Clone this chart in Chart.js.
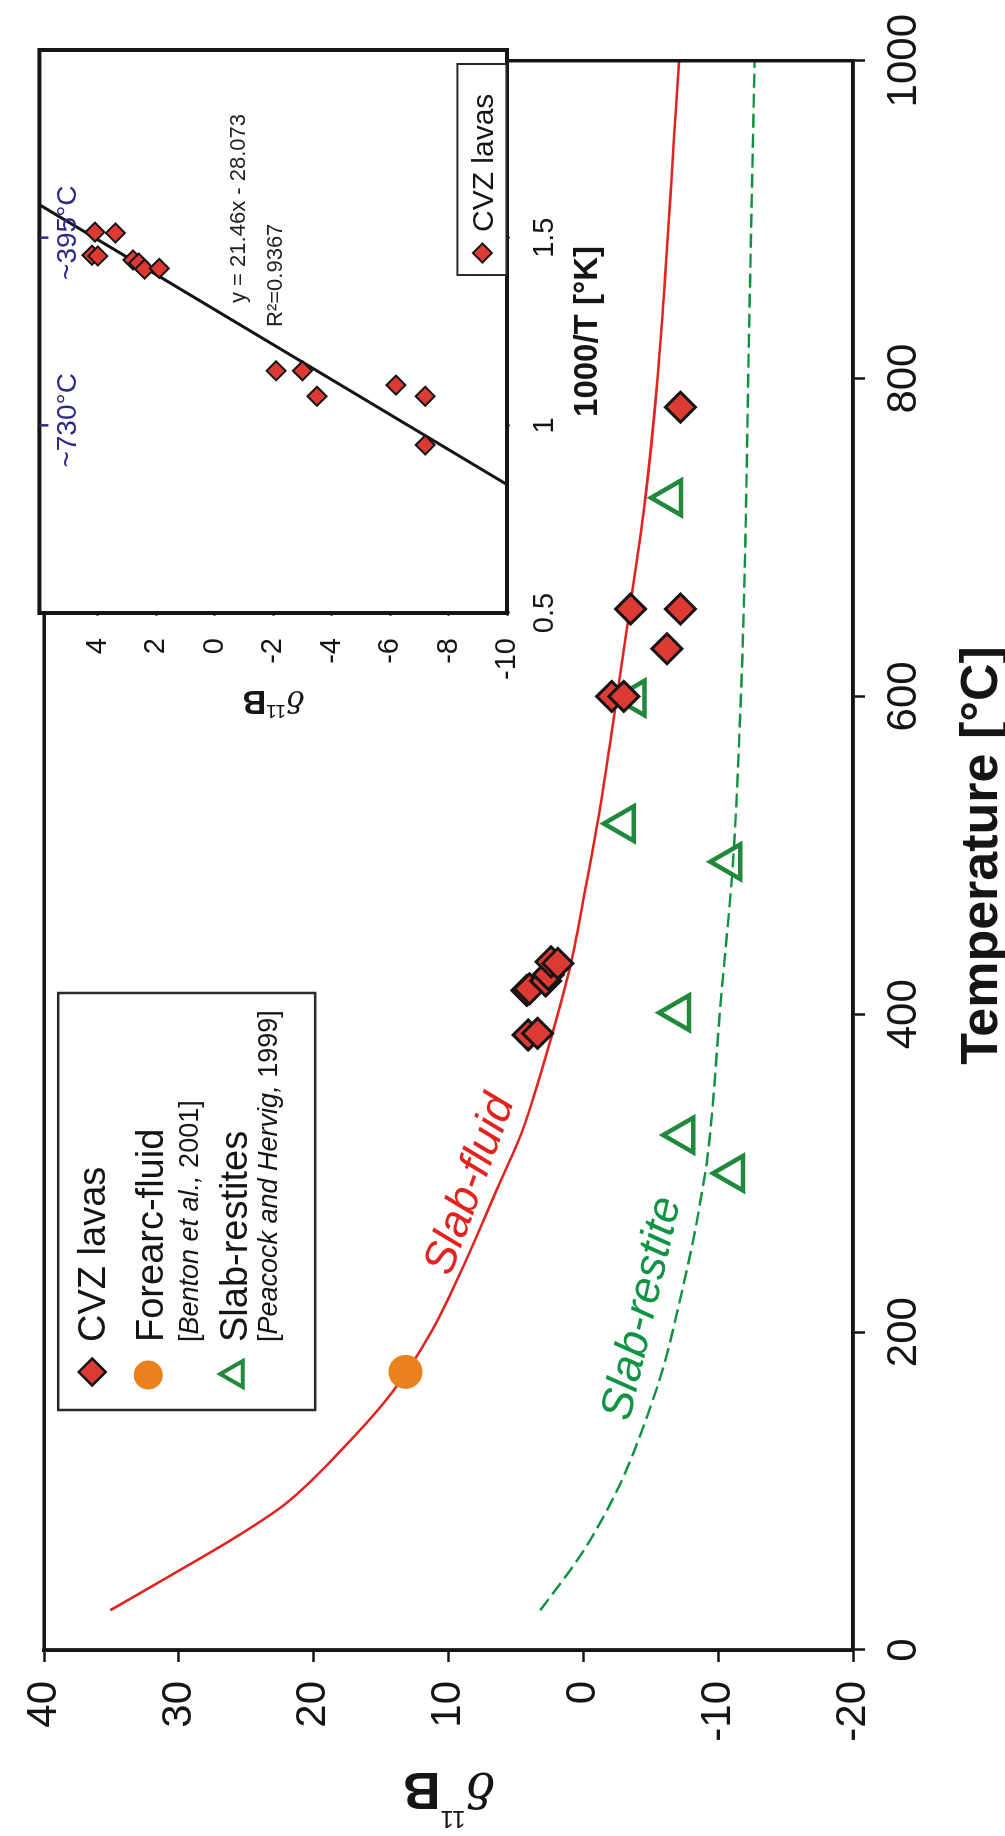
<!DOCTYPE html>
<html lang="en">
<head>
<meta charset="utf-8">
<title>δ11B versus temperature</title>
<script src="https://cdn.jsdelivr.net/npm/chart.js@4.4.1/dist/chart.umd.min.js"></script>
<style>
  html, body { margin: 0; padding: 0; background: #fff; }
  body { width: 1005px; height: 1836px; overflow: hidden; position: relative; }
  /* the figure is laid out landscape and turned a quarter turn counter-clockwise */
  #stage { position: absolute; left: 0; top: 0; width: 1836px; height: 1005px;
           transform-origin: 0 0; transform: translateY(1836px) rotate(-90deg); }
  #stage canvas { position: absolute; left: 0; top: 0; width: 1836px; height: 1005px; }
</style>
</head>
<body>
<div id="stage">
  <canvas id="mainChart" width="1836" height="1005"></canvas>
  <canvas id="insetChart" width="1836" height="1005"></canvas>
</div>
<script>
const FONT = "'Liberation Sans', Arial, Helvetica, sans-serif";
const SERIF = "'DejaVu Serif', 'Liberation Serif', serif";

// ---------------- data ----------------
// CVZ lavas: temperature (°C) and δ11B (‰)
const lavaTemp = [387, 388, 415, 416, 421, 425, 433, 432, 600, 600, 630, 655, 655, 782];
const lavaD11B = [4.1, 3.4, 4.2, 4.0, 2.8, 2.6, 2.4, 1.9, -2.1, -3.0, -6.2, -3.5, -7.2, -7.2];

// Forearc fluid (Benton et al., 2001)
const forearcTemp = [175];
const forearcD11B = [13.2];

// Slab restites (Peacock and Hervig, 1999)
const restiteTemp = [300, 324, 401, 496, 520, 599, 725];
const restiteD11B = [-11.1, -7.4, -7.1, -10.9, -3.0, -3.8, -6.5];

// Slab-fluid trend
const fluidCurveTemp = [25, 46, 72, 92, 129, 162, 200, 236, 294, 325, 356, 388, 431, 481, 523, 569, 653, 725, 800, 1000];
const fluidCurveD11B = [35.1, 30.8, 25.6, 22.1, 17.6, 14.2, 11.3, 9.2, 6.2, 4.6, 3.4, 2.3, 0.96, -0.2, -1.1, -1.95, -3.4, -4.6, -5.5, -7.1];

// Slab-restite trend
const restiteCurveTemp = [25, 61, 104, 144, 180, 218, 256, 281, 310, 409, 496, 582, 656, 834, 1000];
const restiteCurveD11B = [3.2, 0.1, -2.7, -4.6, -6.0, -7.1, -8.1, -8.65, -9.2, -10.2, -11.1, -11.6, -11.9, -12.3, -12.7];

// tick values
const tempTicks = [0, 200, 400, 600, 800, 1000];
const d11bTicks = [-20, -10, 0, 10, 20, 30, 40];
const invTempTicks = [0.5, 1, 1.5];
const insetD11BTicks = [-10, -8, -6, -4, -2, 0, 2, 4];

// inset regression of δ11B on 1000/T
const regSlope = 21.46;
const regIntercept = -28.073;
const regR2 = 0.9367;

// reference temperatures marked along the top of the inset
const refTempLabels = ['~730°C', '~395°C'];
const refTempInv = [1, 1.5];

// ---------------- styles ----------------
const INK = '#151515';
const RED_LINE = '#e2231e';
const DIAMOND = '#dc3a33';
const ORANGE = '#e9821c';
const GREEN_TRI = '#21893b';
const GREEN_LINE = '#109140';
const GREEN_TEXT = '#0f9444';
const BLUE = '#2d2a87';
const CLEAR = 'rgba(0,0,0,0)';

const pts = (xs, ys) => xs.map((v, i) => ({ x: v, y: ys[i] }));
const tickList = arr => scale => { scale.ticks = arr.map(v => ({ value: v })); };

function marker(ctx, style, x, y, r, fill, stroke, lw) {
  ctx.save();
  ctx.fillStyle = fill; ctx.strokeStyle = stroke; ctx.lineWidth = lw;
  Chart.helpers.drawPoint(ctx, { pointStyle: style, radius: r, rotation: 0, borderWidth: lw }, x, y);
  ctx.restore();
}

function runs(ctx, parts, x, y) {
  let cx = x;
  parts.forEach(([t, f]) => { ctx.font = f; ctx.fillText(t, cx, y); cx += ctx.measureText(t).width; });
}

function rotText(ctx, s, x, y, deg, font, color) {
  ctx.save();
  ctx.translate(x, y);
  ctx.rotate(deg * Math.PI / 180);
  ctx.font = font; ctx.fillStyle = color;
  ctx.textAlign = 'center'; ctx.textBaseline = 'alphabetic';
  ctx.fillText(s, 0, 0);
  ctx.restore();
}

// vertical δ11B axis title (reads bottom to top)
function deltaLabel(ctx, baseX, centerY, s) {
  const parts = [
    { t: 'δ', f: `italic ${s.d}px ${SERIF}`, dy: 0 },
    { t: '11', f: `${s.sup}px ${FONT}`, dy: -s.raise },
    { t: 'B', f: `bold ${s.b}px ${FONT}`, dy: 0 }
  ];
  ctx.save();
  ctx.translate(baseX, centerY);
  ctx.rotate(-Math.PI / 2);
  ctx.textAlign = 'left'; ctx.textBaseline = 'alphabetic'; ctx.fillStyle = INK;
  let total = 0;
  parts.forEach(p => { ctx.font = p.f; p.w = ctx.measureText(p.t).width; total += p.w; });
  let cx = -total / 2;
  parts.forEach(p => { ctx.font = p.f; ctx.fillText(p.t, cx, p.dy); cx += p.w; });
  ctx.restore();
}

// ---------------- main plot ----------------
const mainDecor = {
  id: 'mainDecor',
  beforeDraw(chart) {
    const { ctx, width, height } = chart;
    ctx.save(); ctx.fillStyle = '#fff'; ctx.fillRect(0, 0, width, height); ctx.restore();
  },
  afterDatasetsDraw(chart) {
    const { ctx, scales: { x, y } } = chart;
    rotText(ctx, 'Slab-fluid', x.getPixelForValue(290), y.getPixelForValue(7.5), 20, `italic 45px ${FONT}`, RED_LINE);
    rotText(ctx, 'Slab-restite', x.getPixelForValue(213), y.getPixelForValue(-5.3), 13, `italic 45px ${FONT}`, GREEN_TEXT);
  },
  afterDraw(chart) {
    const { ctx, chartArea: a } = chart;
    ctx.save();
    ctx.strokeStyle = INK; ctx.lineWidth = 3.5;
    ctx.strokeRect(a.left, a.top, a.right - a.left, a.bottom - a.top);

    ctx.fillStyle = INK; ctx.textBaseline = 'alphabetic';
    ctx.font = `bold 52px ${FONT}`; ctx.textAlign = 'center';
    ctx.fillText('Temperature [°C]', (a.left + a.right) / 2, a.bottom + 144);
    deltaLabel(ctx, a.left - 123, (a.top + a.bottom) / 2, { d: 48, sup: 24, raise: 38, b: 52 });

    // legend
    const lx = a.left + 240, ly = a.top + 14;
    ctx.fillStyle = '#fff'; ctx.fillRect(lx, ly, 417, 257);
    ctx.strokeStyle = '#2a2a2a'; ctx.lineWidth = 2.5; ctx.strokeRect(lx, ly, 417, 257);
    marker(ctx, 'rectRot', lx + 38, ly + 34, 13.5, DIAMOND, INK, 2.5);
    marker(ctx, 'circle', lx + 35, ly + 90, 14.5, ORANGE, ORANGE, 0);
    marker(ctx, 'triangle', lx + 36, ly + 177, 15, CLEAR, GREEN_TRI, 4);
    ctx.fillStyle = INK; ctx.textAlign = 'left';
    const tx = lx + 68;
    ctx.font = `38px ${FONT}`;
    ctx.fillText('CVZ lavas', tx, ly + 47);
    ctx.fillText('Forearc-fluid', tx, ly + 105);
    ctx.fillText('Slab-restites', tx, ly + 189);
    runs(ctx, [['[', `27px ${FONT}`], ['Benton et al.,', `italic 27px ${FONT}`], [' 2001]', `27px ${FONT}`]], tx, ly + 140);
    runs(ctx, [['[', `27px ${FONT}`], ['Peacock and Hervig,', `italic 27px ${FONT}`], [' 1999]', `27px ${FONT}`]], tx, ly + 219);
    ctx.restore();
  }
};

const axisTick = { drawOnChartArea: false, drawTicks: true, tickLength: 12, tickWidth: 2.5, tickColor: INK };
const axisBorder = { display: true, color: INK, width: 3.5 };

new Chart(document.getElementById('mainChart'), {
  type: 'scatter',
  data: {
    datasets: [
      { label: 'Forearc-fluid', data: pts(forearcTemp, forearcD11B), pointStyle: 'circle', pointRadius: 17,
        backgroundColor: ORANGE, borderWidth: 0, order: 0 },
      { label: 'CVZ lavas', data: pts(lavaTemp, lavaD11B), pointStyle: 'rectRot', pointRadius: 15,
        backgroundColor: DIAMOND, borderColor: INK, borderWidth: 3, order: 1 },
      { label: 'Slab-restites', data: pts(restiteTemp, restiteD11B), pointStyle: 'triangle', pointRadius: 20,
        backgroundColor: CLEAR, borderColor: GREEN_TRI, borderWidth: 4.5, order: 2 },
      { label: 'Slab-fluid', data: pts(fluidCurveTemp, fluidCurveD11B), showLine: true, fill: false,
        borderColor: RED_LINE, borderWidth: 2.6, pointRadius: 0, cubicInterpolationMode: 'monotone', order: 3 },
      { label: 'Slab-restite', data: pts(restiteCurveTemp, restiteCurveD11B), showLine: true, fill: false,
        borderColor: GREEN_LINE, borderWidth: 2.4, borderDash: [14, 6], pointRadius: 0, cubicInterpolationMode: 'monotone', order: 4 }
    ]
  },
  options: {
    responsive: false, animation: false, devicePixelRatio: 1, events: [],
    layout: { padding: { left: 0, right: 50, top: 29, bottom: 0 } },
    plugins: { legend: { display: false }, tooltip: { enabled: false } },
    scales: {
      x: {
        type: 'linear', min: 0, max: 1000, position: 'bottom',
        afterFit: s => { s.height = 152; },
        afterBuildTicks: tickList(tempTicks),
        ticks: { callback: v => String(v), font: { family: FONT, size: 42 }, color: INK, padding: 14, maxRotation: 0, autoSkip: false },
        grid: axisTick, border: axisBorder
      },
      y: {
        type: 'linear', min: -20, max: 40, position: 'left',
        afterFit: s => { s.width = 186; },
        afterBuildTicks: tickList(d11bTicks),
        ticks: { callback: v => String(v), font: { family: FONT, size: 42 }, color: INK, padding: 19, autoSkip: false },
        grid: axisTick, border: axisBorder
      }
    }
  },
  plugins: [mainDecor]
});

// ---------------- inset: δ11B against 1000/T ----------------
const insetYMin = -10, insetYMax = 6;

const insetDecor = {
  id: 'insetDecor',
  beforeDraw(chart) {
    const { ctx, chartArea: a } = chart;
    ctx.save(); ctx.fillStyle = '#fff'; ctx.fillRect(a.left, a.top, a.right - a.left, a.bottom - a.top); ctx.restore();
  },
  afterDraw(chart) {
    const { ctx, chartArea: a, scales: { x } } = chart;
    ctx.save();
    ctx.strokeStyle = INK; ctx.lineWidth = 4;
    ctx.strokeRect(a.left, a.top, a.right - a.left, a.bottom - a.top);

    // reference temperatures
    ctx.strokeStyle = BLUE; ctx.fillStyle = BLUE; ctx.lineWidth = 2.5;
    ctx.font = `28px ${FONT}`; ctx.textAlign = 'center'; ctx.textBaseline = 'alphabetic';
    refTempInv.forEach((v, i) => {
      const px = x.getPixelForValue(v);
      ctx.beginPath(); ctx.moveTo(px, a.top); ctx.lineTo(px, a.top + 9); ctx.stroke();
      ctx.fillText(refTempLabels[i], px + 5, a.top + 37);
    });

    // regression statement
    ctx.fillStyle = '#222'; ctx.textAlign = 'left'; ctx.font = `22px ${FONT}`;
    ctx.fillText(`y = ${regSlope}x - ${Math.abs(regIntercept)}`, a.left + 310, a.top + 206);
    ctx.fillText(`R²=${regR2}`, a.left + 286, a.top + 243);

    // legend
    const lx = a.left + 338, ly = a.top + 418;
    ctx.fillStyle = '#fff'; ctx.fillRect(lx, ly, 211, 49);
    ctx.strokeStyle = '#2a2a2a'; ctx.lineWidth = 2; ctx.strokeRect(lx, ly, 211, 49);
    marker(ctx, 'rectRot', lx + 22, ly + 25, 9.5, DIAMOND, INK, 2);
    ctx.fillStyle = INK; ctx.font = `30px ${FONT}`;
    ctx.fillText('CVZ lavas', lx + 43, ly + 36);

    // axis titles
    ctx.font = `bold 33px ${FONT}`; ctx.textAlign = 'center';
    ctx.fillText('1000/T [°K]', (a.left + a.right) / 2, a.bottom + 90);
    deltaLabel(ctx, a.left - 78, (a.top + a.bottom) / 2, { d: 30, sup: 19, raise: 14, b: 33 });
    ctx.restore();
  }
};

const insetTick = { drawOnChartArea: false, drawTicks: true, tickLength: 3, tickWidth: 2, tickColor: '#444' };

new Chart(document.getElementById('insetChart'), {
  type: 'scatter',
  data: {
    datasets: [
      { label: 'CVZ lavas', data: lavaTemp.map((t, i) => ({ x: 1000 / (t + 273.15), y: lavaD11B[i] })),
        pointStyle: 'rectRot', pointRadius: 9.5, backgroundColor: DIAMOND, borderColor: INK, borderWidth: 2, order: 0 },
      { label: 'fit', data: [insetYMin, insetYMax].map(v => ({ x: (v - regIntercept) / regSlope, y: v })),
        showLine: true, fill: false, borderColor: INK, borderWidth: 3, pointRadius: 0, order: 1 }
    ]
  },
  options: {
    responsive: false, animation: false, devicePixelRatio: 1, events: [],
    layout: { padding: { left: 1113, right: 50, top: 29, bottom: 398 } },
    plugins: { legend: { display: false }, tooltip: { enabled: false } },
    scales: {
      x: {
        type: 'linear', min: 0.5, max: 2, position: 'bottom',
        afterFit: s => { s.height = 100; },
        afterBuildTicks: tickList(invTempTicks),
        ticks: { callback: v => String(v), font: { family: FONT, size: 29 }, color: INK, padding: 18, maxRotation: 0, autoSkip: false },
        grid: insetTick, border: { display: false }
      },
      y: {
        type: 'linear', min: insetYMin, max: insetYMax, position: 'left',
        afterFit: s => { s.width = 110; },
        afterBuildTicks: tickList(insetD11BTicks),
        ticks: { callback: v => String(v), font: { family: FONT, size: 29 }, color: INK, padding: 22, autoSkip: false },
        grid: insetTick, border: { display: false }
      }
    }
  },
  plugins: [insetDecor]
});
</script>
</body>
</html>
